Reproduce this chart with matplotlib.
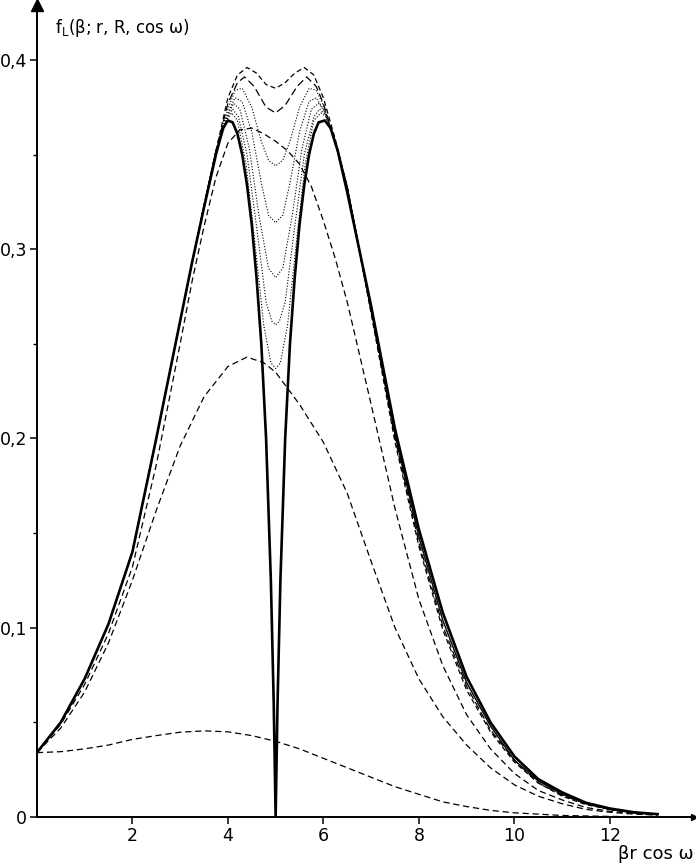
import matplotlib.pyplot as plt
from matplotlib.ticker import MultipleLocator, FixedLocator

# solid curve
solid_x = [0, 0.5, 1, 1.5, 2, 2.5, 3, 3.25, 3.5, 3.75, 3.9, 4.0, 4.1, 4.2, 4.3, 4.4,
           4.5, 4.6, 4.7, 4.8, 4.9, 4.96, 5.0, 5.04, 5.1, 5.2, 5.3, 5.4, 5.5, 5.6,
           5.7, 5.8, 5.9, 6.03, 6.15, 6.3, 6.5, 6.75, 7.0, 7.5, 8.0, 8.5, 9.0, 9.5,
           10, 10.5, 11, 11.5, 12, 12.5, 13]
solid_y = [0.034, 0.050, 0.073, 0.102, 0.140, 0.200, 0.262, 0.293, 0.322, 0.350, 0.364,
           0.368, 0.367, 0.361, 0.350, 0.334, 0.313, 0.285, 0.250, 0.200, 0.125, 0.060,
           0.0, 0.060, 0.125, 0.200, 0.250, 0.285, 0.313, 0.334, 0.350, 0.361, 0.367,
           0.368, 0.364, 0.352, 0.330, 0.300, 0.270, 0.205, 0.152, 0.108, 0.074, 0.050,
           0.032, 0.020, 0.013, 0.0075, 0.0045, 0.0025, 0.0015]

# common left flank of the double-hump family
left_x = [0, 0.5, 1, 1.5, 2, 2.5, 3, 3.25, 3.5, 3.75]
left_y = [0.034, 0.050, 0.073, 0.102, 0.140, 0.200, 0.262, 0.293, 0.323, 0.352]

# top dashed (double hump)
a_x = [4.0, 4.2, 4.4, 4.6, 4.8, 5.0, 5.2, 5.4, 5.6, 5.8, 6.0, 6.25, 6.5, 7.0, 7.5, 8.0,
       8.5, 9.0, 9.5, 10, 10.5, 11, 11.5, 12, 12.5, 13]
a_y = [0.380, 0.392, 0.396, 0.393, 0.387, 0.385, 0.388, 0.393, 0.396, 0.392, 0.380,
       0.358, 0.333, 0.266, 0.198, 0.143, 0.099, 0.067, 0.045, 0.029, 0.018, 0.011,
       0.0065, 0.004, 0.0022, 0.0012]

# second dashed (double hump)
b_x = [4.0, 4.2, 4.35, 4.55, 4.8, 5.0, 5.2, 5.45, 5.65, 5.85, 6.0, 6.25, 6.5, 7.0, 7.5,
       8.0, 8.5, 9.0, 9.5, 10, 10.5, 11, 11.5, 12, 12.5, 13]
b_y = [0.377, 0.388, 0.391, 0.386, 0.375, 0.372, 0.376, 0.386, 0.391, 0.386, 0.377,
       0.356, 0.332, 0.267, 0.200, 0.145, 0.101, 0.069, 0.046, 0.030, 0.018, 0.0115,
       0.007, 0.004, 0.0023, 0.0013]

# dotted double-hump curves (middle part only)
c1_x = [4.0, 4.15, 4.3, 4.5, 4.7, 4.85, 5.0, 5.15, 5.3, 5.5, 5.7, 5.85, 6.0, 6.25, 6.5]
c1_y = [0.374, 0.384, 0.385, 0.375, 0.357, 0.347, 0.344, 0.347, 0.357, 0.375, 0.385,
        0.384, 0.376, 0.357, 0.333]
c2_x = [4.0, 4.15, 4.3, 4.5, 4.7, 4.85, 5.0, 5.15, 5.3, 5.5, 5.7, 5.85, 6.0, 6.25, 6.5]
c2_y = [0.372, 0.380, 0.378, 0.362, 0.335, 0.318, 0.314, 0.318, 0.335, 0.362, 0.378,
        0.380, 0.374, 0.357, 0.333]
c3_x = [4.0, 4.12, 4.25, 4.45, 4.65, 4.85, 5.0, 5.15, 5.35, 5.55, 5.75, 5.9, 6.05, 6.25, 6.5]
c3_y = [0.371, 0.377, 0.374, 0.353, 0.318, 0.290, 0.285, 0.290, 0.318, 0.353, 0.374,
        0.377, 0.372, 0.357, 0.333]
c4_x = [4.0, 4.1, 4.22, 4.4, 4.6, 4.8, 4.92, 5.0, 5.08, 5.2, 5.4, 5.6, 5.8, 5.92, 6.05,
        6.25, 6.5]
c4_y = [0.370, 0.374, 0.370, 0.350, 0.312, 0.272, 0.262, 0.260, 0.262, 0.272, 0.312,
        0.350, 0.370, 0.374, 0.371, 0.357, 0.333]
c5_x = [4.0, 4.08, 4.2, 4.38, 4.56, 4.75, 4.9, 5.0, 5.1, 5.25, 5.44, 5.62, 5.8, 5.95, 6.05,
        6.25, 6.5]
c5_y = [0.369, 0.372, 0.368, 0.345, 0.305, 0.260, 0.240, 0.237, 0.240, 0.260, 0.305,
        0.345, 0.368, 0.372, 0.370, 0.357, 0.333]

# shared right tail of the dotted curves
tail_x = [7.0, 7.5, 8.0, 8.5, 9.0, 9.5, 10, 10.5, 11, 11.5, 12, 12.5, 13]
tail_y = [0.268, 0.202, 0.148, 0.104, 0.071, 0.048, 0.030, 0.019, 0.012, 0.007, 0.004,
          0.0023, 0.0013]

# single-hump dashed curves
d3_x = [0, 0.5, 1, 1.5, 2, 2.5, 3, 3.25, 3.5, 3.75, 4.0, 4.25, 4.5, 4.75, 5.0, 5.25, 5.5,
        5.75, 6.0, 6.25, 6.5, 7.0, 7.5, 8.0, 8.5, 9.0, 9.5, 10, 10.5, 11, 11.5, 12,
        12.5, 13]
d3_y = [0.034, 0.049, 0.070, 0.097, 0.132, 0.186, 0.250, 0.283, 0.312, 0.338, 0.356,
        0.363, 0.364, 0.361, 0.357, 0.352, 0.345, 0.333, 0.315, 0.295, 0.272, 0.218,
        0.163, 0.115, 0.080, 0.054, 0.036, 0.023, 0.014, 0.009, 0.005, 0.003, 0.002,
        0.001]
d2_x = [0, 0.5, 1, 1.5, 2, 2.5, 3, 3.5, 4.0, 4.4, 4.75, 5.0, 5.5, 6.0, 6.5, 7.0, 7.5,
        8.0, 8.5, 9.0, 9.5, 10, 10.5, 11, 11.5, 12, 12.5, 13]
d2_y = [0.034, 0.047, 0.066, 0.092, 0.125, 0.162, 0.196, 0.222, 0.238, 0.243, 0.240,
        0.235, 0.218, 0.198, 0.171, 0.135, 0.100, 0.073, 0.053, 0.038, 0.026, 0.017,
        0.011, 0.007, 0.004, 0.0025, 0.0015, 0.001]
d1_x = [0, 0.5, 1, 1.5, 2, 2.5, 3, 3.5, 4, 4.5, 5, 5.5, 6, 6.5, 7, 7.5, 8, 8.5, 9, 9.5,
        10, 11, 12, 13]
d1_y = [0.034, 0.0345, 0.036, 0.038, 0.041, 0.043, 0.0448, 0.0455, 0.045, 0.043, 0.040,
        0.036, 0.031, 0.026, 0.021, 0.016, 0.012, 0.008, 0.0055, 0.0035, 0.0022,
        0.0008, 0.0003, 0.0001]

y_ticks = [0, 0.1, 0.2, 0.3, 0.4]
y_labels = ["0", "0,1", "0,2", "0,3", "0,4"]
x_ticks = [2, 4, 6, 8, 10, 12]

fig = plt.figure(figsize=(6.96, 8.66), dpi=100)
ax = fig.add_axes([0.053, 0.0566, 0.944, 0.9376])

dash = (0, (5, 3))
dot = (0, (1, 1.6))

ax.plot(d1_x, d1_y, color="black", lw=0.9, ls=dash)
ax.plot(d2_x, d2_y, color="black", lw=0.9, ls=dash)
ax.plot(d3_x, d3_y, color="black", lw=0.9, ls=dash)

for cx, cy in [(c1_x, c1_y), (c2_x, c2_y), (c3_x, c3_y), (c4_x, c4_y), (c5_x, c5_y)]:
    ax.plot(left_x + cx + tail_x, left_y + cy + tail_y, color="black", lw=0.8, ls=dot)

ax.plot(left_x + b_x, left_y + b_y, color="black", lw=0.9, ls=(0, (6, 3)))
ax.plot(left_x + a_x, left_y + a_y, color="black", lw=0.9, ls=(0, (4, 2.5)))

ax.plot(solid_x, solid_y, color="black", lw=1.9)

ax.set_xlim(0, 13.76)
ax.set_ylim(0, 0.429)

for s in ["top", "right"]:
    ax.spines[s].set_visible(False)
for s in ["left", "bottom"]:
    ax.spines[s].set_linewidth(1.4)

ax.yaxis.set_major_locator(FixedLocator(y_ticks))
ax.set_yticklabels(y_labels)
ax.yaxis.set_minor_locator(MultipleLocator(0.05))
ax.xaxis.set_major_locator(FixedLocator(x_ticks))
ax.set_xticklabels([str(t) for t in x_ticks])
ax.tick_params(axis="both", which="major", direction="out", length=5, width=1.1,
               labelsize=12.5, pad=2)
ax.tick_params(axis="y", which="minor", direction="out", length=3, width=1.0)

# axis arrows
ax.plot(0, 1, marker="^", color="black", markersize=8, transform=ax.transAxes,
        clip_on=False)
ax.plot(1, 0, marker=">", color="black", markersize=5, transform=ax.transAxes,
        clip_on=False)

ax.text(0.38, 0.417, r"f$_\mathrm{L}$(β; r, R, cos ω)", fontsize=12, ha="left",
        va="center")
ax.text(1.0, -0.035, "βr cos ω", fontsize=13, ha="right", va="top",
        transform=ax.transAxes)

fig.savefig("out.png", dpi=100)
